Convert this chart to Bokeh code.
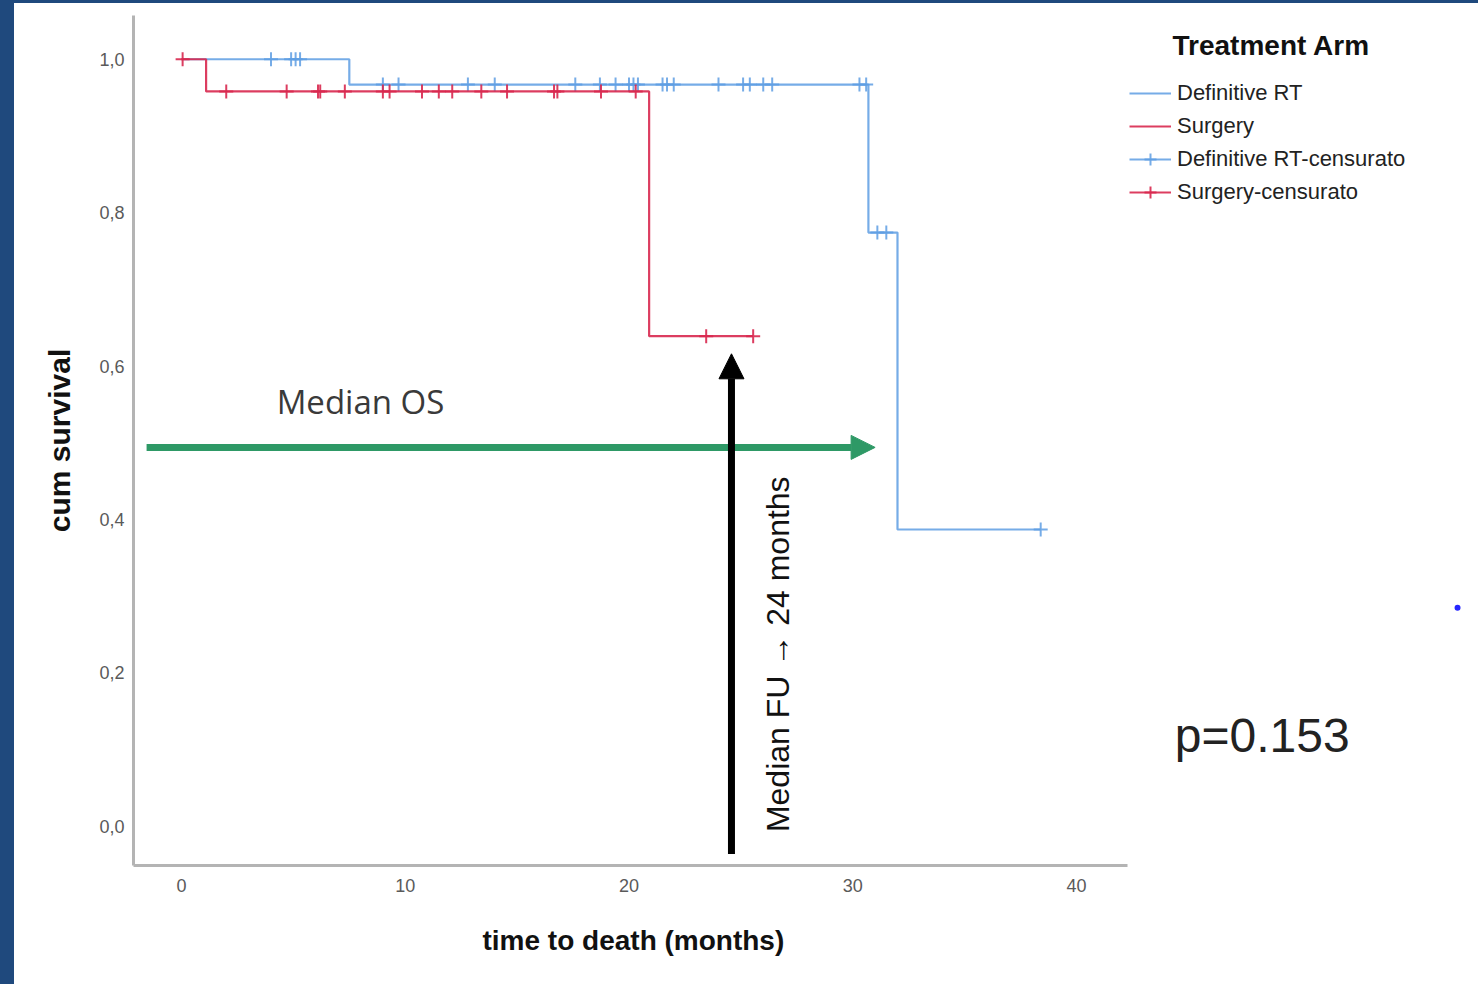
from bokeh.plotting import figure
from bokeh.layouts import column
from bokeh.models import (Arrow, NormalHead, Label, Legend, LegendItem, Range1d,
                          FixedTicker, CustomJSTickFormatter, Title)
from bokeh.embed import file_html
from bokeh.resources import INLINE

# ---------------- data ----------------
rt_event_times = [0.0, 7.5, 30.7, 32.0]
rt_survival = [1.0, 0.967, 0.774, 0.387]
rt_last_time = 38.4
rt_censor_times = [4.0, 4.9, 5.1, 5.3, 9.0, 9.7, 12.8, 14.0, 17.6, 18.7, 19.4,
                   20.0, 20.2, 20.4, 21.5, 21.7, 22.0, 24.0, 25.1, 25.4, 26.0,
                   26.4, 30.3, 30.6, 31.1, 31.5, 38.4]

surg_event_times = [0.0, 1.1, 20.9]
surg_survival = [1.0, 0.958, 0.639]
surg_last_time = 25.55
surg_censor_times = [0.05, 2.0, 4.7, 6.1, 6.2, 7.3, 9.0, 9.3, 10.75, 11.5, 12.1,
                     13.4, 14.55, 16.65, 16.8, 18.75, 20.3, 23.45, 25.55]

x_ticks = [0, 10, 20, 30, 40]
y_ticks = [0.0, 0.2, 0.4, 0.6, 0.8, 1.0]
x_axis_bounds = (-2.145, 42.27)

median_os_y = 0.494
median_os_x = (-1.56, 31.0)
median_fu_x = 24.58
median_fu_y = (-0.036, 0.616)
stray_dot = (57.03, 0.285)

BLUE = "#5E9DE3"
RED = "#D8284F"
GREEN = "#2E9966"
FONT = "Liberation Sans"


def step_xy(times, surv, last):
    return list(times) + [last], list(surv) + [surv[-1]]


def surv_at(t, times, surv):
    s = surv[0]
    for et, sv in zip(times, surv):
        if et <= t:
            s = sv
    return s


PX_PER_UNIT = 22.375
FRAME_W = 1345
p = figure(width=1464, height=981, output_backend="svg", toolbar_location=None,
           x_range=Range1d(x_axis_bounds[0], x_axis_bounds[0] + FRAME_W / PX_PER_UNIT),
           y_range=Range1d(-0.051, 1.057),
           min_border_left=119, min_border_right=0, min_border_top=12,
           min_border_bottom=119)
p.margin = (3, 0, 0, 14)
p.styles = {"background-color": "white"}
p.outline_line_color = None
p.grid.visible = False
p.background_fill_color = "white"
p.border_fill_color = "white"

rx, ry = step_xy(rt_event_times, rt_survival, rt_last_time)
sx, sy = step_xy(surg_event_times, surg_survival, surg_last_time)

rt_line = p.step(rx, ry, mode="after", line_color=BLUE, line_width=2.2, line_alpha=0.85)
rt_cens = p.scatter(rt_censor_times,
                    [surv_at(t, rt_event_times, rt_survival) for t in rt_censor_times],
                    marker="cross", size=14, line_color=BLUE, line_width=2, line_alpha=0.85)
surg_line = p.step(sx, sy, mode="after", line_color=RED, line_width=2.2, line_alpha=0.9)
surg_cens = p.scatter(surg_censor_times,
                      [surv_at(t, surg_event_times, surg_survival) for t in surg_censor_times],
                      marker="cross", size=14, line_color=RED, line_width=2, line_alpha=0.9)
p.scatter([stray_dot[0]], [stray_dot[1]], size=6, fill_color="#0000ff",
          line_color=None, fill_alpha=0.85)

# annotations
p.add_layout(Arrow(end=NormalHead(size=24, fill_color=GREEN, line_color=GREEN),
                   x_start=median_os_x[0], y_start=median_os_y,
                   x_end=median_os_x[1], y_end=median_os_y,
                   line_color=GREEN, line_width=7))
p.add_layout(Arrow(end=NormalHead(size=25, fill_color="black", line_color="black"),
                   x_start=median_fu_x, y_start=median_fu_y[0],
                   x_end=median_fu_x, y_end=median_fu_y[1],
                   line_color="black", line_width=7))

p.add_layout(Label(x=8.0, y=0.554, text="Median OS", text_font="Open Sans",
                   text_font_size="33px", text_color="#3a3a3a",
                   text_align="center", text_baseline="middle"))
p.add_layout(Label(x=26.68, y=0.2244, text="Median FU \u2192 24 months",
                   text_font="Liberation Sans", text_font_size="32px",
                   text_color="#111111", angle=1.5707963,
                   text_align="center", text_baseline="middle"))
p.add_layout(Label(x=48.3, y=0.119, text="p=0.153", text_font="Liberation Sans",
                   text_font_size="48px", text_color="#222222",
                   text_align="center", text_baseline="middle"))
p.add_layout(Label(x=44.29, y=1.0183, text="Treatment Arm", text_font=FONT,
                   text_font_style="bold", text_font_size="28px",
                   text_color="#111111", text_align="left", text_baseline="middle"))

# axes
for ax in (p.xaxis[0], p.yaxis[0]):
    ax.axis_line_color = "#b4b4b4"
    ax.axis_line_width = 3
    ax.major_tick_line_color = None
    ax.minor_tick_line_color = None
    ax.major_tick_out = 0
    ax.major_tick_in = 0
    ax.major_label_text_font = "Liberation Sans"
    ax.major_label_text_font_size = "18px"
    ax.major_label_text_color = "#5a5a5a"
    ax.axis_label_text_font = FONT
    ax.axis_label_text_font_style = "bold"
    ax.axis_label_text_color = "#111111"

p.xaxis.bounds = x_axis_bounds
p.yaxis.axis_label_text_font_size = "30px"
p.xaxis.ticker = FixedTicker(ticks=x_ticks)
p.yaxis.ticker = FixedTicker(ticks=y_ticks)
p.yaxis.formatter = CustomJSTickFormatter(code="return tick.toFixed(1).replace('.', ',');")
p.yaxis.axis_label = "cum survival"
p.xaxis.major_label_standoff = 13
p.yaxis.major_label_standoff = 9
p.yaxis.axis_label_standoff = 20

p.add_layout(Title(text="time to death (months)", text_font=FONT,
                   text_font_style="bold", text_font_size="28px",
                   text_color="#111111", align="left", offset=349,
                   standoff=56), "below")

legend = Legend(items=[
    LegendItem(label="Definitive RT", renderers=[rt_line]),
    LegendItem(label="Surgery", renderers=[surg_line]),
    LegendItem(label="Definitive RT-censurato", renderers=[rt_line, rt_cens]),
    LegendItem(label="Surgery-censurato", renderers=[surg_line, surg_cens]),
], location=(996, 658))
legend.label_text_font = FONT
legend.label_text_font_size = "22px"
legend.label_text_color = "#222222"
legend.label_standoff = 6
legend.glyph_width = 42
legend.glyph_height = 30
legend.label_height = 30
legend.spacing = 3
legend.padding = 5
legend.margin = 0
legend.border_line_color = None
legend.background_fill_alpha = 0
p.add_layout(legend)

layout = column(p, styles={"background-color": "#1F497D"})

open("out.html", "w").write(file_html(layout, INLINE))
